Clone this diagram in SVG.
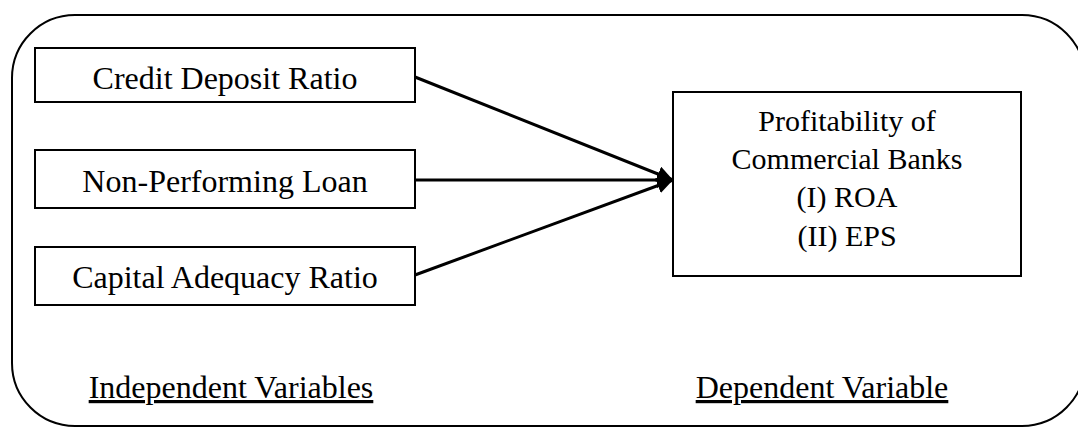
<svg xmlns="http://www.w3.org/2000/svg" width="1078" height="428" viewBox="0 0 1078 428">
<style>
.box{fill:#fff;stroke:#000;stroke-width:2}
.t{font-family:"Liberation Serif","Times New Roman",serif;font-size:32px;fill:#000;text-anchor:middle}
.t2{font-family:"Liberation Serif","Times New Roman",serif;font-size:30px;fill:#000;text-anchor:middle}
.c{stroke:#000;stroke-width:3;fill:none}
</style>
<defs>
<marker id="ah" viewBox="0 0 10 10" refX="10" refY="5" markerWidth="16" markerHeight="16" markerUnits="userSpaceOnUse" orient="auto">
<path d="M0,0 L10,5 L0,10 z" fill="#000"/>
</marker>
</defs>
<rect id="frame" x="12" y="15" width="1073" height="411" rx="63" ry="63" fill="none" stroke="#000" stroke-width="2"/>
<g id="connectors">
<line class="c" x1="415" y1="77" x2="673" y2="180" marker-end="url(#ah)"/>
<line class="c" x1="415" y1="180" x2="673" y2="180" marker-end="url(#ah)"/>
<line class="c" x1="415" y1="275" x2="673" y2="180" marker-end="url(#ah)"/>
</g>
<g id="credit">
<rect class="box" x="35" y="48" width="380" height="54"/>
<text class="t" x="225" y="89">Credit Deposit Ratio</text>
</g>
<g id="npl">
<rect class="box" x="35" y="150" width="380" height="58"/>
<text class="t" x="225" y="192">Non-Performing Loan</text>
</g>
<g id="car">
<rect class="box" x="35" y="247" width="380" height="58"/>
<text class="t" x="225" y="288">Capital Adequacy Ratio</text>
</g>
<g id="profit">
<rect class="box" x="673" y="92" width="348" height="184"/>
<text class="t2" x="847" y="131">Profitability of</text>
<text class="t2" x="847" y="169">Commercial Banks</text>
<text class="t2" x="847" y="207">(I) ROA</text>
<text class="t2" x="847" y="246">(II) EPS</text>
</g>
<g id="labels">
<text class="t" x="231" y="398" text-decoration="underline">Independent Variables</text>
<text class="t" x="822" y="398" text-decoration="underline">Dependent Variable</text>
</g>
</svg>
